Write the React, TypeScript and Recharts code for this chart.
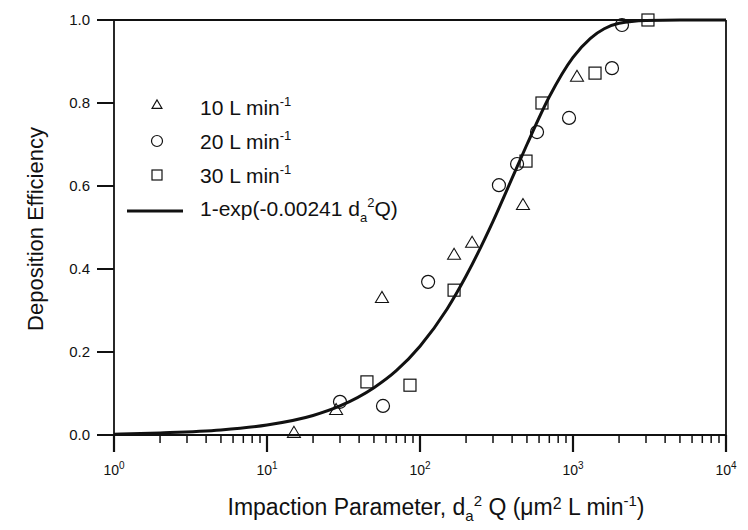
import React from 'react';
import { ComposedChart, XAxis, YAxis, Scatter, Line, ReferenceLine, Legend } from 'recharts';

// ---- data ----
const xMajorTicks = [1, 10, 100, 1000, 10000];
const xMinorMultipliers = [2, 3, 4, 5, 6, 7, 8, 9];
const yTicks = [0, 0.2, 0.4, 0.6, 0.8, 1.0];

const series10Name = '10 L min';
const series10X = [15.0, 28.3, 56.4, 167, 219, 471, 1062];
const series10Y = [0.005, 0.06, 0.33, 0.434, 0.463, 0.554, 0.863];

const series20Name = '20 L min';
const series20X = [30.0, 57.3, 113, 328, 431, 582, 942, 1798, 2090];
const series20Y = [0.08, 0.07, 0.369, 0.602, 0.653, 0.73, 0.764, 0.884, 0.988];

const series30Name = '30 L min';
const series30X = [45, 86, 167, 493, 627, 1393, 3090];
const series30Y = [0.128, 0.12, 0.349, 0.66, 0.8, 0.872, 1.0];

const fitX = [1, 2, 5, 10, 20, 30, 50, 70, 100, 150, 200, 300, 400, 500, 700, 1000, 1300, 1600, 2000, 3000, 5000, 10000];
const fitY = [0.002, 0.005, 0.012, 0.024, 0.047, 0.07, 0.114, 0.155, 0.214, 0.303, 0.383, 0.515, 0.619, 0.7, 0.815, 0.91, 0.956, 0.979, 0.992, 0.999, 1.0, 1.0];

// ---- built tables ----
const zip = (xs: number[], ys: number[]) => xs.map((x, i) => ({ x, y: ys[i] }));
const data10 = zip(series10X, series10Y);
const data20 = zip(series20X, series20Y);
const data30 = zip(series30X, series30Y);
const fitData = zip(fitX, fitY);

const allXTicks: number[] = [];
xMajorTicks.forEach((m, i) => {
  allXTicks.push(m);
  if (i < xMajorTicks.length - 1) xMinorMultipliers.forEach((k) => allXTicks.push(m * k));
});

const FONT = '"Liberation Sans", Arial, Helvetica, sans-serif';
const INK = '#111';

const Tri = ({ cx, cy, s = 13 }: any) => {
  const h = s * 0.85;
  return (
    <polygon
      points={`${cx},${cy - h * 0.6} ${cx - s / 2},${cy + h * 0.4} ${cx + s / 2},${cy + h * 0.4}`}
      fill="none"
      stroke={INK}
      strokeWidth={1.1}
    />
  );
};
const Circ = ({ cx, cy, s = 13 }: any) => (
  <circle cx={cx} cy={cy} r={s / 2} fill="none" stroke={INK} strokeWidth={1.2} />
);
const Sq = ({ cx, cy, s = 12 }: any) => (
  <rect x={cx - s / 2} y={cy - s / 2} width={s} height={s} fill="none" stroke={INK} strokeWidth={1.2} />
);

// x tick: props.y is the axis line position (tickSize and tickMargin are 0)
const XTick = (props: any) => {
  const { x, y, payload } = props;
  const v = payload.value as number;
  const lg = Math.log10(v);
  const major = Math.abs(lg - Math.round(lg)) < 1e-6;
  return (
    <g>
      <path
        d={`M${x},${y}V${y + (major ? 17 : 8)}`}
        stroke={INK}
        strokeWidth={major ? 2.2 : 1.5}
        fill="none"
      />
      {major && (
        <text x={x} y={y + 40} textAnchor="middle" fontSize={14} fill={INK} fontFamily={FONT}>
          10
          <tspan dy={-6} fontSize={10}>
            {Math.round(lg)}
          </tspan>
        </text>
      )}
    </g>
  );
};

const renderLegend = () => {
  const items = [
    { name: series10Name, icon: <Tri cx={37} cy={20} s={10} /> },
    { name: series20Name, icon: <Circ cx={37} cy={56} s={11} /> },
    { name: series30Name, icon: <Sq cx={37} cy={90} s={10} /> },
  ];
  const baselines = [30, 64, 98];
  return (
    <svg width={340} height={150} style={{ display: 'block', overflow: 'visible' }}>
      {items.map((it, i) => (
        <g key={it.name}>
          {it.icon}
          <text x={80} y={baselines[i]} fontSize={21} fill={INK} fontFamily={FONT}>
            {it.name}
            <tspan dy={-9} fontSize={13}>-1</tspan>
          </text>
        </g>
      ))}
      <line x1={7} y1={126} x2={63} y2={126} stroke={INK} strokeWidth={3} />
      <text x={80} y={131} fontSize={21} fill={INK} fontFamily={FONT}>
        1-exp(-0.00241 d
        <tspan dy={6} fontSize={13}>a</tspan>
        <tspan dy={-15} fontSize={13}>2</tspan>
        <tspan dy={9}>Q)</tspan>
      </text>
    </svg>
  );
};

export default function App() {
  return (
    <div style={{ position: 'absolute', left: 0, top: 0, width: 748, height: 530, background: '#fff' }}>
      <ComposedChart width={748} height={530} margin={{ top: 20, right: 22, left: 0, bottom: 0 }}>
        <XAxis
          dataKey="x"
          type="number"
          scale="log"
          domain={[1, 10000]}
          allowDataOverflow
          ticks={allXTicks}
          interval={0}
          tick={<XTick />}
          tickLine={false}
          tickSize={0}
          tickMargin={0}
          height={95}
          axisLine={{ stroke: INK, strokeWidth: 1.8 }}
          label={{
            content: () => (
              <text x={436} y={515} textAnchor="middle" fontSize={23} fill={INK} fontFamily={FONT}>
                Impaction Parameter, d
                <tspan dy={6} fontSize={15}>a</tspan>
                <tspan dy={-15} fontSize={15}>2</tspan>
                <tspan dy={9}> Q (μm</tspan>
                <tspan dy={-6} fontSize={16}>2</tspan>
                <tspan dy={6}> L min</tspan>
                <tspan dy={-9} fontSize={15}>-1</tspan>
                <tspan dy={9}>)</tspan>
              </text>
            ),
          }}
        />
        <YAxis
          type="number"
          domain={[0, 1]}
          ticks={yTicks}
          interval={0}
          width={114}
          tickSize={17}
          tickMargin={7}
          tickFormatter={(v: number) => v.toFixed(1)}
          tick={{ fontSize: 15, fill: INK, fontFamily: FONT }}
          tickLine={{ stroke: INK, strokeWidth: 2 }}
          axisLine={{ stroke: INK, strokeWidth: 1.8 }}
          label={{
            content: () => (
              <text
                transform="translate(43,229) rotate(-90)"
                textAnchor="middle"
                fontSize={22}
                fill={INK}
                fontFamily={FONT}
              >
                Deposition Efficiency
              </text>
            ),
          }}
        />
        <ReferenceLine y={1} stroke={INK} strokeWidth={1.8} ifOverflow="visible" />
        <ReferenceLine x={10000} stroke={INK} strokeWidth={1.8} ifOverflow="visible" />
        <Legend
          layout="vertical"
          align="center"
          verticalAlign="middle"
          content={renderLegend}
          wrapperStyle={{ position: 'absolute', left: 120, top: 85, width: 340, height: 150 }}
        />
        <Line
          data={fitData}
          dataKey="y"
          type="monotone"
          stroke={INK}
          strokeWidth={3}
          dot={false}
          activeDot={false}
          isAnimationActive={false}
          legendType="none"
        />
        <Scatter data={data10} dataKey="y" shape={(p: any) => <Tri cx={p.cx} cy={p.cy} />} isAnimationActive={false} />
        <Scatter data={data20} dataKey="y" shape={(p: any) => <Circ cx={p.cx} cy={p.cy} />} isAnimationActive={false} />
        <Scatter data={data30} dataKey="y" shape={(p: any) => <Sq cx={p.cx} cy={p.cy} />} isAnimationActive={false} />
      </ComposedChart>
    </div>
  );
}
